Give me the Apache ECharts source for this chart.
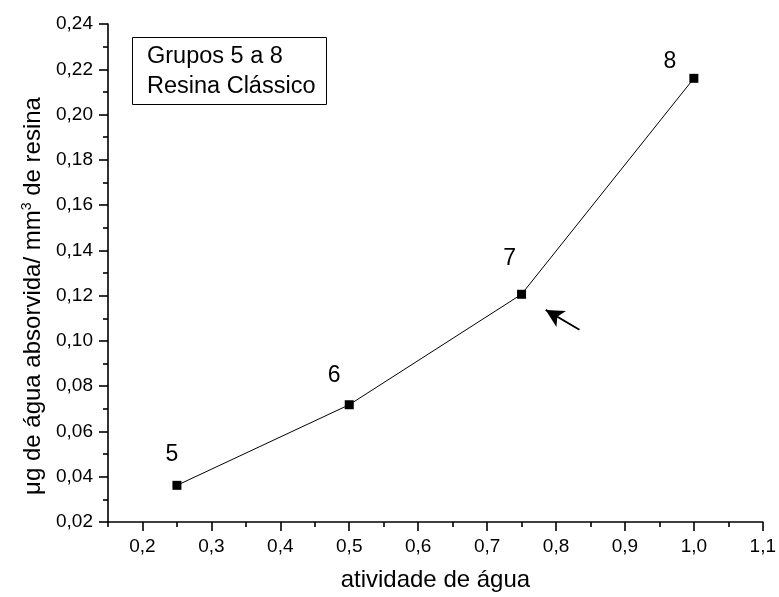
<!DOCTYPE html>
<html>
<head>
<meta charset="utf-8">
<script src="https://cdn.jsdelivr.net/npm/echarts@6/dist/echarts.min.js"></script>
<style>
  html, body { margin: 0; padding: 0; background: #fff; }
  #chart { width: 779px; height: 597px; }
</style>
</head>
<body>
<div id="chart"></div>
<script>
// Water activity (x) and water uptake per resin volume (y), groups 5 to 8
const activity = [0.25, 0.50, 0.75, 1.00];
const uptake = [0.0362, 0.0718, 0.1206, 0.2160];
const groups = ['5', '6', '7', '8'];

// Axis tick values
const xMajorTicks = [0.2, 0.3, 0.4, 0.5, 0.6, 0.7, 0.8, 0.9, 1.0, 1.1];
const xMinorTicks = [0.15, 0.25, 0.35, 0.45, 0.55, 0.65, 0.75, 0.85, 0.95, 1.05];

// Annotation arrow pointing at group 7 (data coordinates: tail, head)
const arrowTail = [0.834, 0.1049];
const arrowHead = [0.785, 0.1137];

const FONT = "'Liberation Sans', Arial, Helvetica, sans-serif";
const labelOffsets = [[-5, -31], [-15, -29], [-12, -36], [-24, -17]];

const comma = (v, d) => v.toFixed(d).replace('.', ',');

const chart = echarts.init(document.getElementById('chart'), null, { renderer: 'canvas' });

const xBase = {
  type: 'value',
  min: 0.15,
  max: 1.1,
  interval: 0.05,
  position: 'bottom',
  splitLine: { show: false }
};

chart.setOption({
  animation: false,
  backgroundColor: '#fff',
  textStyle: { fontFamily: FONT },
  grid: { left: 108, right: 13, top: 24, bottom: 74 },
  title: {
    text: 'Grupos 5 a 8\nResina Clássico',
    left: 132,
    top: 37,
    padding: [5, 11, 3, 15],
    borderWidth: 1,
    borderColor: '#000',
    textStyle: { fontFamily: FONT, fontSize: 23.5, fontWeight: 'normal', color: '#000', lineHeight: 30 }
  },
  xAxis: [
    Object.assign({}, xBase, {
      name: 'atividade de água',
      nameLocation: 'middle',
      nameGap: 46,
      nameTextStyle: { fontFamily: FONT, fontSize: 24, color: '#000' },
      axisLine: { show: true, lineStyle: { color: '#000', width: 1.6 } },
      axisTick: { show: true, length: 9, lineStyle: { color: '#000', width: 1.6 }, customValues: xMajorTicks },
      axisLabel: {
        color: '#000', fontSize: 19, fontFamily: FONT, margin: 15,
        customValues: xMajorTicks,
        formatter: v => comma(v, 1)
      }
    }),
    Object.assign({}, xBase, {
      axisLine: { show: false },
      axisTick: { show: true, length: 5, lineStyle: { color: '#000', width: 1.6 }, customValues: xMinorTicks },
      axisLabel: { show: false }
    })
  ],
  yAxis: {
    type: 'value',
    min: 0.02,
    max: 0.24,
    interval: 0.02,
    name: 'μg de água absorvida/ mm{sup|3} de resina',
    nameLocation: 'middle',
    nameGap: 62,
    nameTextStyle: {
      fontFamily: FONT, fontSize: 24, color: '#000',
      padding: [0, 46, 0, 0],
      rich: { sup: { fontFamily: FONT, fontSize: 14, color: '#000', padding: [0, 0, 12, 0] } }
    },
    splitLine: { show: false },
    axisLine: { show: true, lineStyle: { color: '#000', width: 1.6 } },
    axisTick: { show: true, length: 9, lineStyle: { color: '#000', width: 1.6 } },
    minorTick: { show: true, splitNumber: 2, length: 5, lineStyle: { color: '#000', width: 1.6 } },
    axisLabel: { color: '#000', fontSize: 19, fontFamily: FONT, margin: 15, formatter: v => comma(v, 2) }
  },
  series: [{
    type: 'line',
    xAxisIndex: 0,
    data: activity.map((x, i) => ({
      value: [x, uptake[i]],
      label: { offset: labelOffsets[i] }
    })),
    symbol: 'rect',
    symbolSize: 9,
    itemStyle: { color: '#000' },
    lineStyle: { color: '#000', width: 1 },
    label: {
      show: true,
      position: 'inside',
      fontFamily: FONT,
      fontSize: 23,
      color: '#000',
      formatter: p => groups[p.dataIndex]
    },
    markLine: {
      silent: true,
      symbol: ['none', 'arrow'],
      symbolSize: [14, 18],
      label: { show: false },
      lineStyle: { color: '#000', width: 1.8, type: 'solid' },
      data: [[{ coord: arrowTail }, { coord: arrowHead }]]
    }
  }]
});
</script>
</body>
</html>
